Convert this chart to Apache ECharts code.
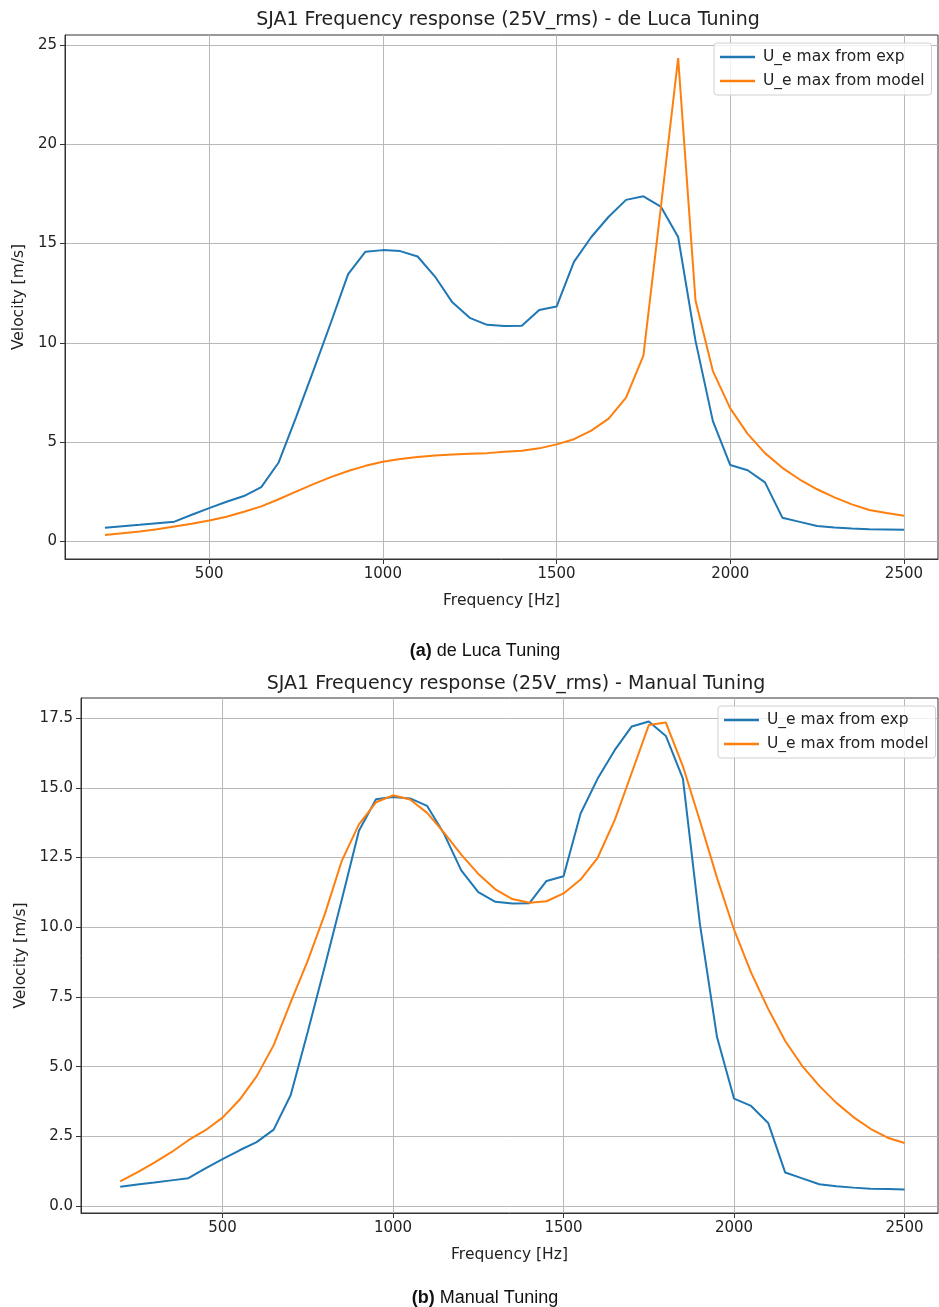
<!DOCTYPE html>
<html>
<head>
<meta charset="utf-8">
<script src="https://cdn.jsdelivr.net/npm/echarts@6/dist/echarts.min.js"></script>
<style>
  html, body { margin: 0; padding: 0; background: #fff; }
  #chart { width: 939px; height: 1307px; }
</style>
</head>
<body>
<div id="chart"></div>
<script>
const freq = [200, 250, 300, 350, 400, 450, 500, 550, 600, 650, 700, 750, 800, 850, 900, 950,
  1000, 1050, 1100, 1150, 1200, 1250, 1300, 1350, 1400, 1450, 1500, 1550, 1600, 1650, 1700, 1750,
  1800, 1850, 1900, 1950, 2000, 2050, 2100, 2150, 2200, 2250, 2300, 2350, 2400, 2450, 2500];

// measured velocity (same in both panels)
const expVel = [0.69, 0.77, 0.84, 0.92, 1.00, 1.35, 1.68, 2.00, 2.29, 2.74, 3.98, 6.25, 8.60, 11.00, 13.46, 14.59,
  14.67, 14.62, 14.35, 13.34, 12.04, 11.26, 10.91, 10.85, 10.86, 11.66, 11.83, 14.08, 15.33, 16.35, 17.20, 17.38,
  16.86, 15.33, 10.10, 6.06, 3.85, 3.59, 2.98, 1.20, 0.99, 0.78, 0.71, 0.66, 0.62, 0.61, 0.59];

// model, de Luca tuning
const modelDeLuca = [0.33, 0.42, 0.51, 0.62, 0.76, 0.90, 1.06, 1.25, 1.50, 1.77, 2.13, 2.51, 2.89, 3.24, 3.55, 3.81,
  4.02, 4.16, 4.26, 4.33, 4.38, 4.42, 4.45, 4.52, 4.57, 4.69, 4.89, 5.15, 5.58, 6.19, 7.24, 9.36,
  16.80, 24.34, 12.13, 8.58, 6.70, 5.42, 4.45, 3.71, 3.12, 2.63, 2.22, 1.87, 1.59, 1.44, 1.30];

// model, manual tuning
const modelManual = [0.88, 1.21, 1.56, 1.93, 2.36, 2.72, 3.17, 3.81, 4.65, 5.77, 7.31, 8.80, 10.47, 12.39, 13.69, 14.48,
  14.73, 14.58, 14.10, 13.38, 12.60, 11.91, 11.36, 11.01, 10.88, 10.93, 11.21, 11.71, 12.49, 13.84, 15.54, 17.25,
  17.34, 15.77, 13.81, 11.77, 9.91, 8.37, 7.07, 5.92, 5.02, 4.31, 3.70, 3.19, 2.77, 2.45, 2.26];

const xTicks = [500, 1000, 1500, 2000, 2500];
const yTicksA = [0, 5, 10, 15, 20, 25];
const yTicksB = [0, 2.5, 5, 7.5, 10, 12.5, 15, 17.5];

const seriesNames = ['U_e max from exp', 'U_e max from model'];
const colors = ['#1f77b4', '#ff7f0e'];

const font = 'DejaVu Sans';
const pair = (vals) => freq.map((f, i) => [f, vals[i]]);

function xAxisFor(gridIndex) {
  return {
    type: 'value',
    gridIndex: gridIndex,
    min: 85,
    max: 2598,
    name: 'Frequency [Hz]',
    nameLocation: 'middle',
    nameGap: 34,
    nameTextStyle: { fontFamily: font, fontSize: 15.5, color: '#222' },
    axisLine: { show: true, onZero: false, lineStyle: { color: '#333', width: 1 } },
    axisTick: { show: true, inside: false, length: 5, customValues: xTicks, lineStyle: { color: '#333' } },
    axisLabel: { customValues: xTicks, fontFamily: font, fontSize: 15, color: '#222', margin: 8,
      formatter: (v) => String(v) },
    splitLine: { show: true, lineStyle: { color: '#b8b8b8', width: 1 } }
  };
}

function yAxisFor(gridIndex, min, max, ticks, fmt) {
  return {
    type: 'value',
    gridIndex: gridIndex,
    min: min,
    max: max,
    name: 'Velocity [m/s]',
    nameLocation: 'middle',
    nameRotate: 90,
    nameTextStyle: { fontFamily: font, fontSize: 15.5, color: '#222' },
    axisLine: { show: true, onZero: false, lineStyle: { color: '#333', width: 1 } },
    axisTick: { show: true, inside: false, length: 5, customValues: ticks, lineStyle: { color: '#333' } },
    axisLabel: { customValues: ticks, fontFamily: font, fontSize: 15, color: '#222', margin: 8, formatter: fmt },
    splitLine: { show: true, lineStyle: { color: '#b8b8b8', width: 1 } }
  };
}

function legendFor(left, top) {
  return {
    orient: 'vertical',
    left: left,
    top: top,
    data: seriesNames,
    icon: 'rect',
    itemWidth: 35,
    itemHeight: 2.5,
    itemGap: 8,
    padding: [6, 7, 6, 6],
    borderColor: '#d0d0d0',
    borderWidth: 1,
    borderRadius: 3,
    backgroundColor: 'rgba(255,255,255,0.8)',
    textStyle: { fontFamily: font, fontSize: 15.5, color: '#222', padding: [0, 0, 0, 3] }
  };
}

const yA = yAxisFor(0, -0.88, 25.5, yTicksA, (v) => String(v));
yA.nameGap = 36;
const yB = yAxisFor(1, -0.25, 18.22, yTicksB, (v) => v.toFixed(1));
yB.nameGap = 50;

const options = {
  animation: false,
  color: colors,
  title: [
    {
      text: 'SJA1 Frequency response (25V_rms) - de Luca Tuning',
      left: 503, top: 6, textAlign: 'center',
      textStyle: { fontFamily: font, fontSize: 19, fontWeight: 'normal', color: '#222' }
    },
    {
      text: '{b|(a)} de Luca Tuning',
      left: 480, top: 637, textAlign: 'center',
      textStyle: { rich: { b: { fontFamily: 'Liberation Sans', fontSize: 18, fontWeight: 'bold', color: '#111' } },
        fontFamily: 'Liberation Sans', fontSize: 18, fontWeight: 'normal', color: '#111' }
    },
    {
      text: 'SJA1 Frequency response (25V_rms) - Manual Tuning',
      left: 511, top: 670, textAlign: 'center',
      textStyle: { fontFamily: font, fontSize: 19, fontWeight: 'normal', color: '#222' }
    },
    {
      text: '{b|(b)} Manual Tuning',
      left: 480, top: 1284, textAlign: 'center',
      textStyle: { rich: { b: { fontFamily: 'Liberation Sans', fontSize: 18, fontWeight: 'bold', color: '#111' } },
        fontFamily: 'Liberation Sans', fontSize: 18, fontWeight: 'normal', color: '#111' }
    }
  ],
  legend: [legendFor(714, 43), legendFor(718, 706)],
  grid: [
    { left: 65, top: 35, width: 873, height: 524, show: true, borderColor: '#333', borderWidth: 1 },
    { left: 81, top: 698, width: 857, height: 515, show: true, borderColor: '#333', borderWidth: 1 }
  ],
  xAxis: [xAxisFor(0), xAxisFor(1)],
  yAxis: [yA, yB],
  series: [
    { name: seriesNames[0], type: 'line', xAxisIndex: 0, yAxisIndex: 0, data: pair(expVel),
      symbol: 'none', lineStyle: { width: 2, color: colors[0] } },
    { name: seriesNames[1], type: 'line', xAxisIndex: 0, yAxisIndex: 0, data: pair(modelDeLuca),
      symbol: 'none', lineStyle: { width: 2, color: colors[1] } },
    { name: seriesNames[0], type: 'line', xAxisIndex: 1, yAxisIndex: 1, data: pair(expVel),
      symbol: 'none', lineStyle: { width: 2, color: colors[0] } },
    { name: seriesNames[1], type: 'line', xAxisIndex: 1, yAxisIndex: 1, data: pair(modelManual),
      symbol: 'none', lineStyle: { width: 2, color: colors[1] } }
  ]
};

const myChart = echarts.init(document.getElementById('chart'), null, { renderer: 'canvas' });
myChart.setOption(options);
</script>
</body>
</html>
